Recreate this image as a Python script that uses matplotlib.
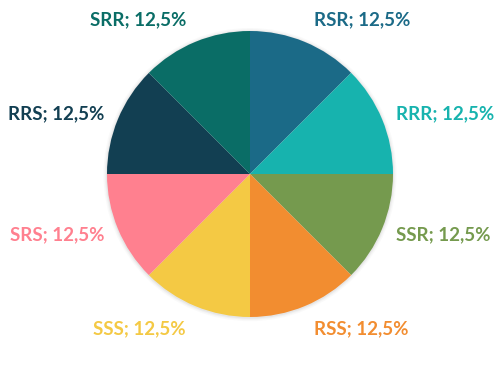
import numpy as np
import matplotlib.pyplot as plt
from matplotlib.patches import Circle

# ----------------- dados -----------------
CATEGORIAS = ["RSR", "RRR", "SSR", "RSS", "SSS", "SRS", "RRS", "SRR"]
VALORES = [12.5, 12.5, 12.5, 12.5, 12.5, 12.5, 12.5, 12.5]
CORES = ["#1B6A87", "#17B3AE", "#759A4E", "#F28D30",
         "#F4C944", "#FF808F", "#123F52", "#0A6D66"]

# ----------------- layout (pixels) -----------------
W, H = 500, 367
CX, CY, R_PX = 250, 174, 143

fig = plt.figure(figsize=(W / 100, H / 100), dpi=100)
ax = fig.add_axes([0, 0, 1, 1])

# sombra suave atrás da pizza
for r, a in [(1.025, 0.05), (1.015, 0.08), (1.007, 0.12)]:
    ax.add_patch(Circle((0, -0.004), r, color="#9a9a9a", alpha=a, lw=0, zorder=0))

wedges, _ = ax.pie(VALORES, colors=CORES, startangle=90, counterclock=False,
                   radius=1.0, wedgeprops=dict(linewidth=0), frame=True)
ax.set_xlim(-CX / R_PX, (W - CX) / R_PX)
ax.set_ylim(-(H - CY) / R_PX, CY / R_PX)
ax.set_aspect("auto")
ax.axis("off")

# rótulos externos
for w, cat, val, cor in zip(wedges, CATEGORIAS, VALORES, CORES):
    ang = np.deg2rad((w.theta1 + w.theta2) / 2)
    rl = 1.17 if abs(np.sin(ang)) > 0.5 else 1.105
    x, y = rl * np.cos(ang), rl * np.sin(ang)
    ha = "left" if np.cos(ang) > 0 else "right"
    txt = f"{cat}; {val:.1f}%".replace(".", ",")
    ax.text(x, y, txt, ha=ha, va="center", color=cor, fontsize=13.5,
            fontweight="bold", family=["Lato", "DejaVu Sans"])

fig.savefig("out.png", dpi=100, facecolor="white")
